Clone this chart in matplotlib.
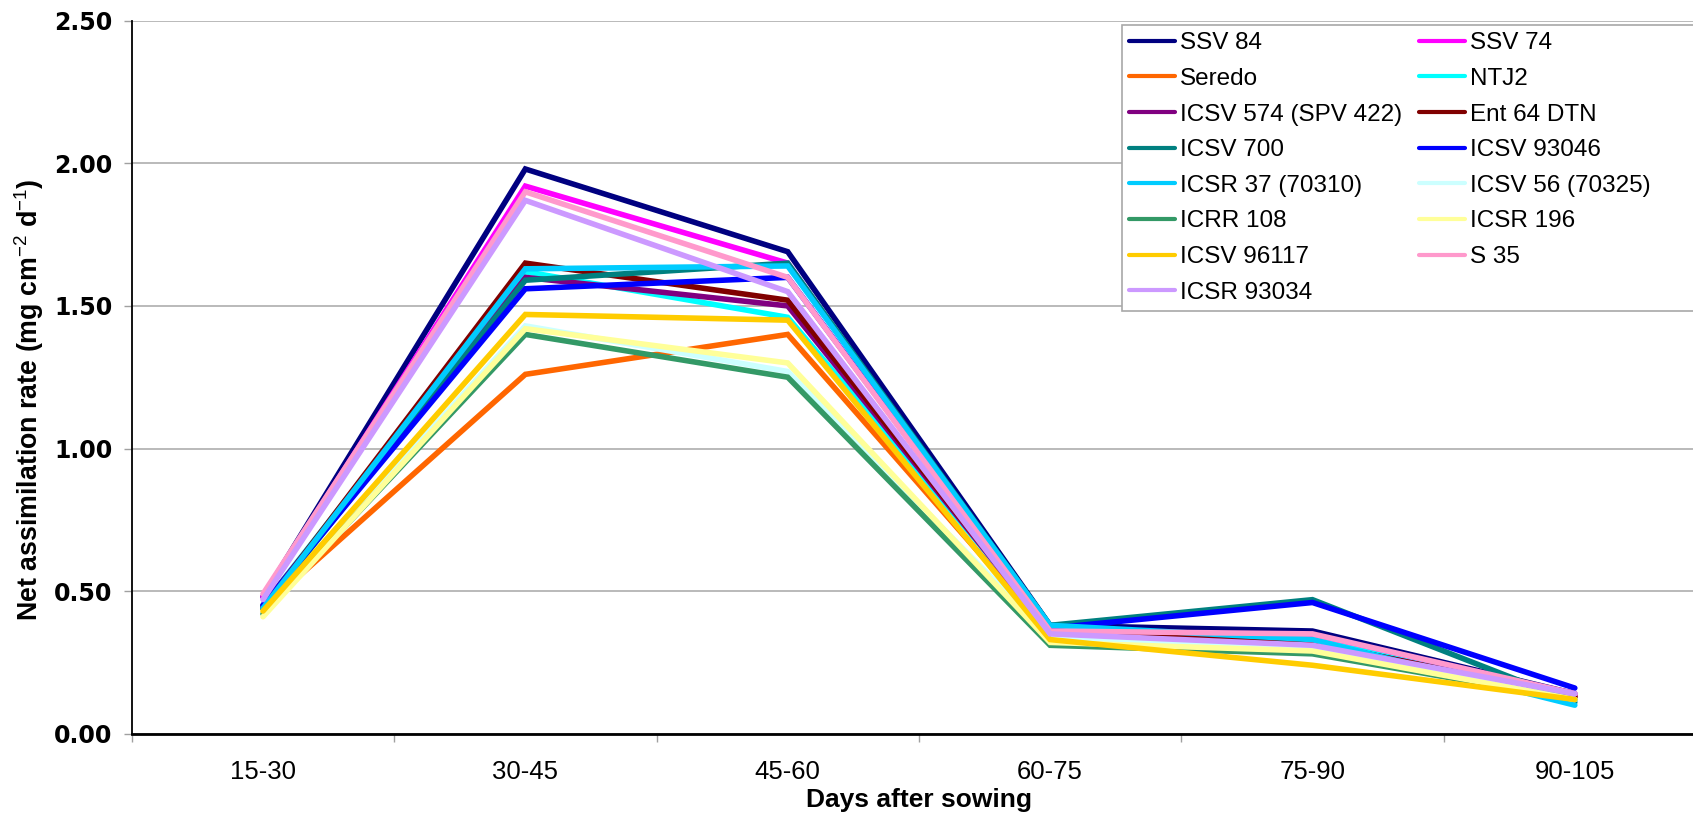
import matplotlib
matplotlib.use('Agg')
import matplotlib.pyplot as plt
from matplotlib.patches import Rectangle
import numpy as np

periods = ['15-30', '30-45', '45-60', '60-75', '75-90', '90-105']

ssv84 = [0.48, 1.98, 1.69, 0.38, 0.36, 0.14]
ssv74 = [0.48, 1.92, 1.65, 0.36, 0.34, 0.14]
seredo = [0.44, 1.26, 1.40, 0.35, 0.30, 0.13]
ntj2 = [0.45, 1.62, 1.46, 0.37, 0.33, 0.12]
icsv574 = [0.45, 1.60, 1.50, 0.36, 0.32, 0.13]
ent64 = [0.44, 1.65, 1.52, 0.36, 0.32, 0.13]
icsv700 = [0.44, 1.59, 1.65, 0.38, 0.47, 0.11]
icsv93046 = [0.45, 1.56, 1.60, 0.37, 0.46, 0.16]
icsr37 = [0.44, 1.63, 1.64, 0.38, 0.33, 0.10]
icsv56 = [0.42, 1.43, 1.27, 0.34, 0.30, 0.12]
icrr108 = [0.42, 1.40, 1.25, 0.31, 0.28, 0.12]
icsr196 = [0.41, 1.42, 1.30, 0.32, 0.29, 0.12]
icsv96117 = [0.43, 1.47, 1.45, 0.33, 0.24, 0.12]
s35 = [0.49, 1.90, 1.60, 0.36, 0.35, 0.14]
icsr93034 = [0.47, 1.87, 1.55, 0.35, 0.31, 0.14]

names = ['SSV 84', 'SSV 74', 'Seredo', 'NTJ2', 'ICSV 574 (SPV 422)', 'Ent 64 DTN',
         'ICSV 700', 'ICSV 93046', 'ICSR 37 (70310)', 'ICSV 56 (70325)',
         'ICRR 108', 'ICSR 196', 'ICSV 96117', 'S 35', 'ICSR 93034']
series = [ssv84, ssv74, seredo, ntj2, icsv574, ent64, icsv700, icsv93046,
          icsr37, icsv56, icrr108, icsr196, icsv96117, s35, icsr93034]
colors = ['#000080', '#FF00FF', '#FF6600', '#00FFFF', '#800080', '#800000',
          '#008080', '#0000FF', '#00CCFF', '#CCFFFF', '#339966', '#FFFF99',
          '#FFCC00', '#FF99CC', '#CC99FF']

plt.rcParams['mathtext.fontset'] = 'custom'
plt.rcParams['mathtext.rm'] = 'Liberation Sans'
plt.rcParams['mathtext.bf'] = 'Liberation Sans:bold'

fig = plt.figure(figsize=(16.93, 8.27), dpi=100)
ax = fig.add_axes([131.8 / 1693, 1 - 733.7 / 827, (1706 - 131.8) / 1693, (733.7 - 20.7) / 827])

x = np.arange(len(periods))
lines = []
for name, vals, c in zip(names, series, colors):
    ln, = ax.plot(x, vals, color=c, lw=4.0, label=name,
                  solid_joinstyle='miter', solid_capstyle='round')
    lines.append(ln)

ax.set_xlim(-0.5, len(periods) - 0.5)
ax.set_ylim(0, 2.5)
ax.set_yticks(np.arange(0, 2.51, 0.5))
ax.set_yticklabels([f'{v:.2f}' for v in np.arange(0, 2.51, 0.5)],
                   family='DejaVu Sans', fontweight='bold', fontsize=17)
ax.set_xticks(x)
ax.set_xticklabels(periods, family='Liberation Sans', fontsize=18.5)
ax.set_xticks(np.arange(-0.5, len(periods)), minor=True)
ax.tick_params(axis='x', which='major', length=0, pad=19)
ax.tick_params(axis='x', which='minor', length=6, color='#a0a0a0', width=1)
ax.tick_params(axis='y', length=6, color='#a0a0a0', width=1, pad=8)

ax.grid(axis='y', color='#b4b4b4', lw=1.3)
ax.set_axisbelow(True)
for s in ['top', 'right']:
    ax.spines[s].set_visible(False)
ax.spines['bottom'].set_linewidth(2)
ax.spines['left'].set_linewidth(1.3)

ax.set_xlabel('Days after sowing', family='Liberation Sans', fontweight='bold',
              fontsize=19, labelpad=3)
fig.text(29 / 1693, 1 - 400 / 827, r'Net assimilation rate (mg cm$^{-2}$ d$^{-1}$)',
         rotation=90, ha='center', va='center', family='Liberation Sans',
         fontweight='bold', fontsize=19.3)

# legend filled row by row, as in the original
order = list(range(0, len(names), 2)) + list(range(1, len(names), 2))
leg = fig.legend([lines[i] for i in order], [names[i] for i in order],
                 ncol=2, loc='upper left', bbox_to_anchor=(1122 / 1693, 1 - 25 / 827),
                 prop={'family': 'Liberation Sans', 'size': 17.5},
                 frameon=False, borderaxespad=0,
                 borderpad=0.3, labelspacing=0.56, handlelength=1.9,
                 handletextpad=0.18, columnspacing=0.7)
for h in leg.get_lines():
    h.set_linewidth(3.0)
leg.set_zorder(5)

fig.canvas.draw()
bb = leg.get_window_extent()
frame = Rectangle((bb.x0, bb.y0), 1710 - bb.x0, bb.height, transform=None,
                  facecolor='white', edgecolor='#a8a8a8', lw=1.2, zorder=4)
fig.add_artist(frame)

fig.savefig('out.png', dpi=100)
